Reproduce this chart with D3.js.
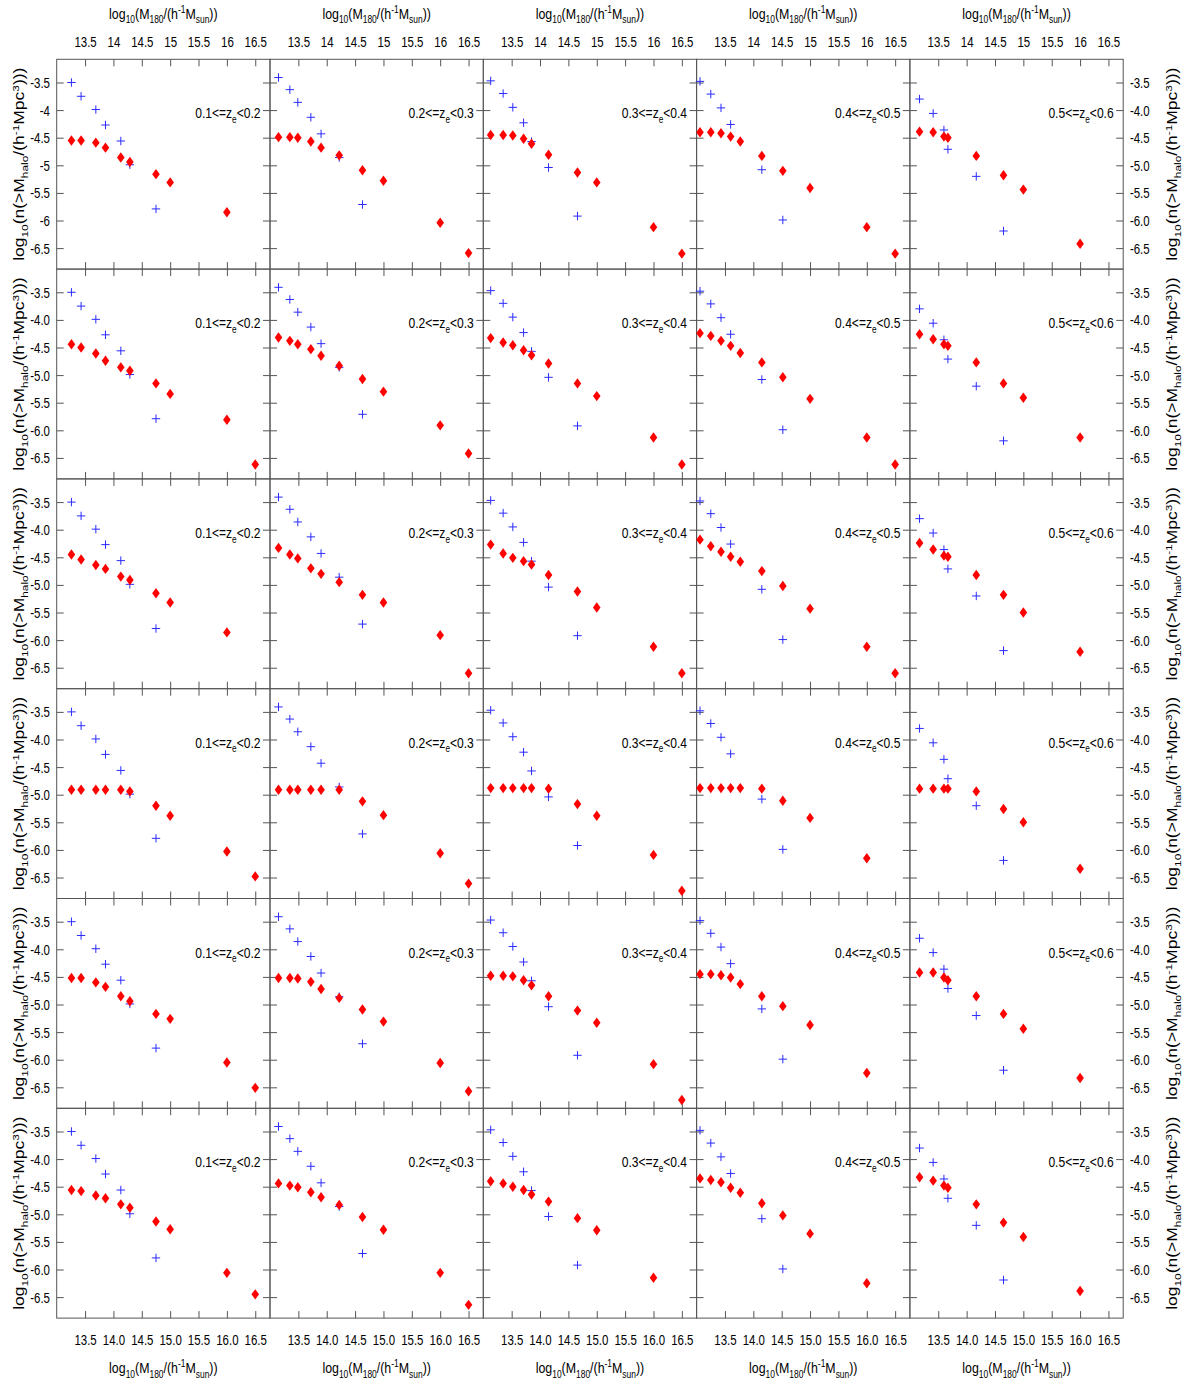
<!DOCTYPE html>
<html lang="en">
<head>
  <meta charset="UTF-8" />
  <title>Halo mass function grid</title>
  <script src="https://d3js.org/d3.v7.min.js"></script>
  <style>
    body { margin: 0; background: #fff; }
    text { font-family: "Liberation Sans", Arial, sans-serif; fill: #000; }
  </style>
</head>
<body>
<svg id="chart" width="1188" height="1385"></svg>
<script>
// tick values
const xTicks = [13.5, 14, 14.5, 15, 15.5, 16, 16.5];
const yTicks = [-3.5, -4, -4.5, -5, -5.5, -6, -6.5];
const zEdges = ["0.1", "0.2", "0.3", "0.4", "0.5", "0.6"];

// mass bins for each redshift column (log10 M180)
const massBins = [
  [13.26, 13.43, 13.69, 13.86, 14.13, 14.29, 14.75, 15.0, 16.0, 16.5],
  [13.15, 13.35, 13.49, 13.72, 13.90, 14.22, 14.63, 15.0, 16.0, 16.5],
  [13.13, 13.35, 13.52, 13.71, 13.85, 14.15, 14.66, 15.0, 16.0, 16.5],
  [13.06, 13.25, 13.43, 13.60, 13.77, 14.15, 14.52, 15.0, 16.0, 16.5],
  [13.17, 13.41, 13.60, 13.67, 14.17, 14.65, 15.0, 16.0]
];

// reference (blue cross) counts, one per column
const refMass = [
  [13.26, 13.43, 13.69, 13.86, 14.13, 14.29, 14.75],
  [13.15, 13.35, 13.49, 13.72, 13.90, 14.22, 14.63],
  [13.13, 13.35, 13.52, 13.71, 13.85, 14.15, 14.66],
  [13.06, 13.25, 13.43, 13.60, 14.15, 14.52],
  [13.17, 13.41, 13.60, 13.67, 14.17, 14.65]
];
const refDensity = [
  [-3.50, -3.75, -3.99, -4.27, -4.56, -4.99, -5.79],
  [-3.41, -3.63, -3.86, -4.13, -4.43, -4.86, -5.71],
  [-3.47, -3.70, -3.95, -4.23, -4.57, -5.04, -5.92],
  [-3.48, -3.71, -3.96, -4.26, -5.08, -5.99],
  [-3.80, -4.06, -4.36, -4.71, -5.20, -6.19]
];

// red diamonds, one row of panels per array
const row1 = [
  [-4.55, -4.55, -4.59, -4.68, -4.86, -4.94, -5.16, -5.31, -5.85],
  [-4.49, -4.49, -4.50, -4.57, -4.68, -4.82, -5.09, -5.28, -6.04, -6.59],
  [-4.45, -4.45, -4.46, -4.52, -4.61, -4.81, -5.13, -5.31, -6.12, -6.60],
  [-4.40, -4.40, -4.42, -4.48, -4.57, -4.83, -5.10, -5.41, -6.12, -6.60],
  [-4.39, -4.40, -4.48, -4.50, -4.83, -5.18, -5.44, -6.42]
];
const row2 = [
  [-4.44, -4.50, -4.61, -4.74, -4.86, -4.92, -5.15, -5.34, -5.81, -6.62],
  [-4.32, -4.38, -4.44, -4.53, -4.65, -4.83, -5.07, -5.30, -5.91, -6.42],
  [-4.33, -4.41, -4.46, -4.55, -4.64, -4.79, -5.15, -5.38, -6.13, -6.62],
  [-4.24, -4.29, -4.38, -4.47, -4.60, -4.77, -5.04, -5.43, -6.13, -6.62],
  [-4.26, -4.35, -4.44, -4.47, -4.77, -5.15, -5.41, -6.13]
];
const row3 = [
  [-4.45, -4.54, -4.64, -4.71, -4.85, -4.91, -5.15, -5.32, -5.86],
  [-4.33, -4.45, -4.52, -4.70, -4.80, -4.95, -5.18, -5.32, -5.91, -6.60],
  [-4.27, -4.43, -4.51, -4.57, -4.63, -4.82, -5.12, -5.41, -6.12, -6.60],
  [-4.18, -4.30, -4.40, -4.49, -4.58, -4.75, -5.02, -5.43, -6.12, -6.60],
  [-4.24, -4.36, -4.47, -4.49, -4.82, -5.18, -5.50, -6.21]
];
const row4 = [
  [-4.91, -4.91, -4.91, -4.91, -4.91, -4.94, -5.20, -5.38, -6.03, -6.48],
  [-4.91, -4.91, -4.91, -4.91, -4.91, -4.91, -5.12, -5.37, -6.06, -6.61],
  [-4.88, -4.88, -4.88, -4.88, -4.88, -4.89, -5.17, -5.38, -6.09, -6.74],
  [-4.88, -4.88, -4.88, -4.88, -4.88, -4.89, -5.11, -5.42, -6.15],
  [-4.89, -4.89, -4.89, -4.89, -4.94, -5.26, -5.50, -6.34]
];
const row5 = [
  [-4.52, -4.52, -4.60, -4.68, -4.85, -4.94, -5.17, -5.26, -6.05, -6.51],
  [-4.52, -4.52, -4.53, -4.59, -4.72, -4.88, -5.09, -5.31, -6.06, -6.57],
  [-4.48, -4.48, -4.49, -4.56, -4.65, -4.85, -5.11, -5.33, -6.08, -6.73],
  [-4.45, -4.45, -4.47, -4.51, -4.63, -4.85, -5.03, -5.37, -6.24],
  [-4.42, -4.42, -4.51, -4.56, -4.85, -5.17, -5.44, -6.33]
];
const row6 = [
  [-4.56, -4.58, -4.66, -4.71, -4.82, -4.88, -5.13, -5.27, -6.06, -6.45],
  [-4.44, -4.48, -4.51, -4.60, -4.69, -4.83, -5.05, -5.28, -6.06, -6.64],
  [-4.40, -4.44, -4.50, -4.56, -4.64, -4.77, -5.07, -5.29, -6.15],
  [-4.35, -4.38, -4.42, -4.52, -4.61, -4.80, -5.02, -5.35, -6.25],
  [-4.33, -4.39, -4.48, -4.52, -4.82, -5.15, -5.41, -6.39]
];
const rows = [row1, row2, row3, row4, row5, row6];

// layout
const gridLeft = 56.7, gridTop = 59.3, pw = 213.3, ph = 209.8;
const nCols = 5, nRows = 6;
const frameColor = "#555";
const sx = 0.74; // the figure text is squeezed horizontally

const svg = d3.select("#chart");

const xScale = c => d3.scaleLinear().domain([13.0, 16.76]).range([gridLeft + c * pw, gridLeft + (c + 1) * pw]);
const yScale = r => d3.scaleLinear().domain([-6.88, -3.08]).range([gridTop + (r + 1) * ph, gridTop + r * ph]);

// text with sub/superscripts
function rich(g, parts, size) {
  const t = g.append("text").style("font-size", size + "px");
  let shift = 0;
  parts.forEach(p => {
    const kind = p[1] || "n";
    const target = kind === "sub" ? size * 0.3 : kind === "sup" ? -size * 0.38 : 0;
    t.append("tspan")
      .attr("dy", target - shift)
      .style("font-size", kind === "n" ? size + "px" : (size * 0.68) + "px")
      .text(p[0]);
    shift = target;
  });
  return t;
}

const massTitle = [["log"], ["10", "sub"], ["(M"], ["180", "sub"], ["/(h"], ["-1", "sup"], ["M"], ["sun", "sub"], ["))"]];
const densTitle = [["log"], ["10", "sub"], ["(n(>M"], ["halo", "sub"], ["/(h"], ["-1", "sup"], ["Mpc"], ["3", "sup"], [")))"]];

const fmt1 = d => d.toFixed(1);
const fmtShort = d => String(d);

function squeeze(sel, pad, anchor) {
  sel.selectAll("text")
    .attr("x", null)
    .style("font-size", "15.5px")
    .style("font-family", '"Liberation Sans", Arial, sans-serif')
    .attr("fill", "#000")
    .attr("text-anchor", anchor)
    .attr("transform", `translate(${pad},0) scale(${sx},1)`);
}

for (let r = 0; r < nRows; r++) {
  for (let c = 0; c < nCols; c++) {
    const x = xScale(c), y = yScale(r);
    const g = svg.append("g");
    const x0 = gridLeft + c * pw, y0 = gridTop + r * ph;

    // inner ticks on all four sides
    const tb = g.append("g").attr("transform", `translate(0,${y0 + ph})`)
      .call(d3.axisBottom(x).tickValues(xTicks).tickSize(-7).tickFormat(""));
    const tt = g.append("g").attr("transform", `translate(0,${y0})`)
      .call(d3.axisTop(x).tickValues(xTicks).tickSize(-7).tickFormat(""));
    const tl = g.append("g").attr("transform", `translate(${x0},0)`)
      .call(d3.axisLeft(y).tickValues(yTicks).tickSize(-7).tickFormat(""));
    const tr = g.append("g").attr("transform", `translate(${x0 + pw},0)`)
      .call(d3.axisRight(y).tickValues(yTicks).tickSize(-7).tickFormat(""));
    [tb, tt, tl, tr].forEach(a => {
      a.select(".domain").remove();
      a.selectAll("line").attr("stroke", frameColor);
    });

    g.append("rect")
      .attr("x", x0).attr("y", y0).attr("width", pw).attr("height", ph)
      .attr("fill", "none").attr("stroke", frameColor).attr("stroke-width", 1);

    // tick labels on the outside of the grid
    if (r === 0) {
      const a = g.append("g").attr("transform", `translate(0,${y0})`)
        .call(d3.axisTop(x).tickValues(xTicks).tickSize(0).tickPadding(12.8).tickFormat(fmtShort));
      a.select(".domain").remove();
      squeeze(a, 0, "middle");
      const t = rich(g.append("g").attr("transform", `translate(${x0 + pw / 2},18.5) scale(0.8,1)`), massTitle, 15.5);
      t.attr("text-anchor", "middle");
    }
    if (r === nRows - 1) {
      const a = g.append("g").attr("transform", `translate(0,${y0 + ph})`)
        .call(d3.axisBottom(x).tickValues(xTicks).tickSize(0).tickPadding(16).tickFormat(fmt1));
      a.select(".domain").remove();
      squeeze(a, 0, "middle");
      const t = rich(g.append("g").attr("transform", `translate(${x0 + pw / 2},1373) scale(0.8,1)`), massTitle, 15.5);
      t.attr("text-anchor", "middle");
    }
    if (c === 0) {
      const a = g.append("g").attr("transform", `translate(${x0},0)`)
        .call(d3.axisLeft(y).tickValues(yTicks).tickSize(0).tickFormat(r === 0 ? fmtShort : fmt1));
      a.select(".domain").remove();
      squeeze(a, -6.7, "end");
      const t = rich(g.append("g").attr("transform", `translate(24,${y0 + ph / 2}) rotate(-90) scale(1,0.8)`), densTitle, 17.5);
      t.attr("text-anchor", "middle");
    }
    if (c === nCols - 1) {
      const a = g.append("g").attr("transform", `translate(${x0 + pw},0)`)
        .call(d3.axisRight(y).tickValues(yTicks).tickSize(0).tickFormat(fmt1));
      a.select(".domain").remove();
      squeeze(a, 6.7, "start");
      const t = rich(g.append("g").attr("transform", `translate(1177,${y0 + ph / 2}) rotate(-90) scale(1,0.8)`), densTitle, 17.5);
      t.attr("text-anchor", "middle");
    }

    // redshift label
    const lab = rich(g.append("g").attr("transform", `translate(${x0 + pw - 9.5},${y0 + 59}) scale(0.78,1)`),
      [[zEdges[c] + "<=z"], ["e", "sub"], ["<" + zEdges[c + 1]]], 15.5);
    lab.attr("text-anchor", "end");

    // blue crosses
    const crosses = refMass[c].map((m, i) => [m, refDensity[c][i]]);
    g.append("g").selectAll("path").data(crosses).join("path")
      .attr("transform", d => `translate(${x(d[0])},${y(d[1])})`)
      .attr("d", "M-4.2,0H4.2M0,-4.2V4.2")
      .attr("stroke", "#2b2bff").attr("stroke-width", 1).attr("fill", "none");

    // red diamonds
    const pts = rows[r][c].map((v, i) => [massBins[c][i], v]);
    g.append("g").selectAll("path").data(pts).join("path")
      .attr("transform", d => `translate(${x(d[0])},${y(d[1])})`)
      .attr("d", "M0,-5.2L3.8,0L0,5.2L-3.8,0Z")
      .attr("fill", "#ff0000");
  }
}
</script>
</body>
</html>
